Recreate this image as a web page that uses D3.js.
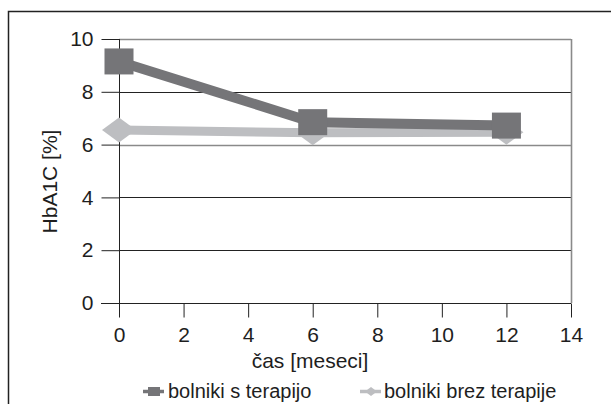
<!DOCTYPE html>
<html>
<head>
<meta charset="utf-8">
<script src="https://cdn.jsdelivr.net/npm/d3@7"></script>
<style>
  html, body { margin: 0; padding: 0; background: #fff; }
  svg { display: block; font-family: "Liberation Sans", Arial, sans-serif; }
</style>
</head>
<body>
<svg id="chart" width="611" height="404"></svg>
<script>
// HbA1C over time, patients with and without therapy
const months = [0, 6, 12];
const withTherapy = [9.15, 6.85, 6.72];
const withoutTherapy = [6.55, 6.45, 6.47];
const seriesNames = ["bolniki s terapijo", "bolniki brez terapije"];
const xTicks = [0, 2, 4, 6, 8, 10, 12, 14];
const yTicks = [0, 2, 4, 6, 8, 10];

const darkGrey = "#757578";
const lightGrey = "#bdbec1";
const ink = "#1e1e1e";
const fontFamily = "Liberation Sans, Arial, sans-serif";

const svg = d3.select("#chart");
const plot = { left: 119, right: 571, top: 39, bottom: 303 };

const x = d3.scaleLinear().domain([0, 14]).range([plot.left, plot.right]);
const y = d3.scaleLinear().domain([0, 10]).range([plot.bottom, plot.top]);

// outer frame (open to the right and bottom)
svg.append("path")
  .attr("d", `M8.5,420 V11.5 H620`)
  .attr("fill", "none")
  .attr("stroke", "#222")
  .attr("stroke-width", 1.5);

// horizontal gridlines
svg.append("g")
  .selectAll("line")
  .data(yTicks.filter(d => d > 0))
  .join("line")
  .attr("x1", plot.left).attr("x2", plot.right)
  .attr("y1", d => Math.round(y(d)) + 0.5).attr("y2", d => Math.round(y(d)) + 0.5)
  .attr("stroke", d => (d === 10 || d === 6) ? "#8a8a8a" : "#222")
  .attr("stroke-width", d => (d === 10 || d === 6) ? 1.6 : 1);

// right border of plot area
svg.append("line")
  .attr("x1", Math.round(x(14)) + 0.5).attr("x2", Math.round(x(14)) + 0.5)
  .attr("y1", plot.top).attr("y2", plot.bottom)
  .attr("stroke", "#8a8a8a").attr("stroke-width", 1.6);

// y axis
const yAxis = d3.axisLeft(y).tickValues(yTicks).tickSize(18).tickPadding(8).tickFormat(d3.format("d"));
const gy = svg.append("g").attr("transform", `translate(${Math.round(plot.left) + 0.5},0)`).call(yAxis);
gy.select(".domain").remove();
gy.append("line").attr("y1", plot.top).attr("y2", plot.bottom + 14).attr("stroke", "#222");
gy.selectAll(".tick line").attr("stroke", "#222");
gy.selectAll(".tick text").attr("fill", ink).style("font-size", "21px").style("font-family", fontFamily);

// x axis
const xAxis = d3.axisBottom(x).tickValues(xTicks).tickSize(14).tickPadding(10).tickFormat(d3.format("d"));
const gx = svg.append("g").attr("transform", `translate(0,${Math.round(plot.bottom) + 0.5})`).call(xAxis);
gx.select(".domain").remove();
gx.append("line").attr("x1", plot.left - 18).attr("x2", plot.right).attr("stroke", "#222");
gx.selectAll(".tick line").attr("stroke", "#222");
gx.selectAll(".tick text").attr("fill", ink).style("font-size", "21px").style("font-family", fontFamily);

// axis titles
svg.append("text")
  .attr("x", 310).attr("y", 368)
  .attr("text-anchor", "middle")
  .attr("fill", ink)
  .style("font-size", "21px")
  .text("čas [meseci]");

svg.append("text")
  .attr("transform", "translate(57,181.5) rotate(-90)")
  .attr("text-anchor", "middle")
  .attr("fill", ink)
  .style("font-size", "21px")
  .text("HbA1C [%]");

// series
const line = d3.line().x(d => x(d[0])).y(d => y(d[1]));
const diamond = (w, h) => `M0,${-h / 2} L${w / 2},0 L0,${h / 2} L${-w / 2},0 Z`;

const noTher = months.map((m, i) => [m, withoutTherapy[i]]);
const ther = months.map((m, i) => [m, withTherapy[i]]);

svg.append("path").datum(noTher).attr("d", line)
  .attr("fill", "none").attr("stroke", lightGrey).attr("stroke-width", 9);
svg.append("g").selectAll("path").data(noTher).join("path")
  .attr("transform", d => `translate(${x(d[0])},${y(d[1])})`)
  .attr("d", diamond(34, 25))
  .attr("fill", lightGrey);

svg.append("path").datum(ther).attr("d", line)
  .attr("fill", "none").attr("stroke", darkGrey).attr("stroke-width", 10);
svg.append("g").selectAll("rect").data(ther).join("rect")
  .attr("x", d => x(d[0]) - 14.5).attr("y", d => y(d[1]) - 13)
  .attr("width", 29).attr("height", 26)
  .attr("fill", darkGrey);

// legend
const legendY = 391.5;
const legend = [
  { name: seriesNames[0], color: darkGrey, x0: 143, tx: 168, kind: "square" },
  { name: seriesNames[1], color: lightGrey, x0: 360, tx: 384, kind: "diamond" }
];
const lg = svg.append("g").selectAll("g").data(legend).join("g")
  .attr("transform", d => `translate(${d.x0},${legendY})`);
lg.append("line").attr("x1", 0).attr("x2", 21).attr("y1", 0).attr("y2", 0)
  .attr("stroke", d => d.color).attr("stroke-width", 3.5);
lg.each(function (d) {
  const g = d3.select(this);
  if (d.kind === "square") {
    g.append("rect").attr("x", 5).attr("y", -4.5).attr("width", 12).attr("height", 9).attr("fill", d.color);
  } else {
    g.append("path").attr("transform", "translate(11,0)").attr("d", diamond(12, 9)).attr("fill", d.color);
  }
});
lg.append("text")
  .attr("x", d => d.tx - d.x0).attr("y", 6.5)
  .attr("fill", ink)
  .style("font-size", "20px")
  .text(d => d.name);
</script>
</body>
</html>
